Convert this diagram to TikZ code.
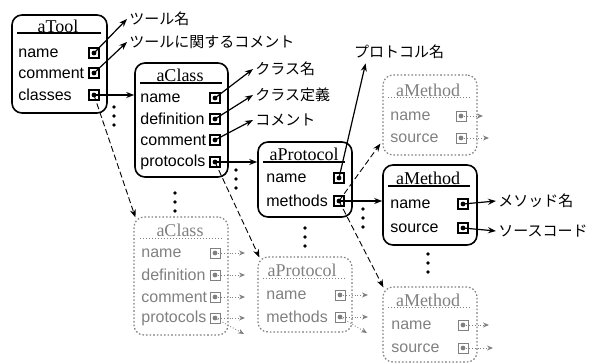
\documentclass[tikz,border=0pt]{standalone}
\usepackage{fontspec}
\setmainfont{Liberation Serif}
\setsansfont{Liberation Sans}
\newfontfamily\jpfont{Noto Sans CJK JP}
\usetikzlibrary{arrows.meta, fit}

\tikzset{
  obj/.style={draw, line width=0.8pt, rounded corners=5pt, inner sep=0pt},
  ghost/.style={obj, densely dotted, line width=0.6pt, gray},
  title/.style={inner sep=0pt, font=\fontsize{9}{10}\selectfont},
  rule/.style={line width=0.6pt},
  grule/.style={densely dotted, line width=0.5pt, gray},
  field/.style={anchor=west, inner sep=0pt, font=\sffamily\fontsize{8}{10}\selectfont},
  slot/.style={draw, line width=0.6pt, minimum size=5pt, inner sep=0pt,
    path picture={\fill (path picture bounding box.center) circle (1.2pt);}},
  gslot/.style={slot, gray, line width=0.4pt},
  jplabel/.style={anchor=west, inner sep=1pt, font=\jpfont\fontsize{7.5}{9}\selectfont},
  ptr/.style={-{Stealth[length=4pt,width=3pt]}, line width=0.6pt},
  ref/.style={-{Stealth[length=4pt,width=3pt]}, dash pattern=on 3pt off 1.5pt, line width=0.45pt},
  gptr/.style={-{Stealth[length=3pt,width=2.5pt]}, densely dotted, line width=0.45pt, gray},
  vdot/.style={fill, circle, inner sep=0pt, minimum size=1.8pt},
}

\begin{document}
\begin{tikzpicture}[x=0.5pt, y=-0.5pt]
  \useasboundingbox (0,0) rectangle (589,364);

  % aTool
  \node[obj, fit={(12,15) (107,113)}] (tool) {};
  \node[title] (tool-title) at (58,26) {aTool};
  \draw[rule] (17,33) -- (101,33);
  \foreach \f/\y in {name/53, comment/73, classes/95} {
    \node[field] (tool-\f-lbl) at (18,\y) {\f};
    \node[slot] (tool-\f) at (94,\y) {};
  }

  % aClass
  \node[obj, fit={(135,63) (228,177)}] (cls) {};
  \node[title] (cls-title) at (180,75) {aClass};
  \draw[rule] (140,83) -- (222,83);
  \foreach \f/\y in {name/98, definition/119, comment/140, protocols/162} {
    \node[field] (cls-\f-lbl) at (140,\y) {\f};
    \node[slot] (cls-\f) at (215,\y) {};
  }

  % aClass (other)
  \node[ghost, fit={(134,217) (228,335)}] (clsg) {};
  \node[title, gray] (clsg-title) at (180,230) {aClass};
  \draw[grule] (140,238) -- (222,238);
  \foreach \f/\y in {name/253, definition/275, comment/297, protocols/318} {
    \node[field, gray] (clsg-\f-lbl) at (141,\y) {\f};
    \node[gslot] (clsg-\f) at (215,\y) {};
  }

  % aProtocol
  \node[obj, fit={(258,142) (352,217)}] (proto) {};
  \node[title] (proto-title) at (304,154) {aProtocol};
  \draw[rule] (263,162) -- (345,162);
  \foreach \f/\y in {name/178, methods/201} {
    \node[field] (proto-\f-lbl) at (266,\y) {\f};
    \node[slot] (proto-\f) at (339,\y) {};
  }

  % aProtocol (other)
  \node[ghost, fit={(258,257) (352,332)}] (protog) {};
  \node[title, gray] (protog-title) at (302,270) {aProtocol};
  \draw[grule] (263,278) -- (345,278);
  \foreach \f/\y in {name/295, methods/317} {
    \node[field, gray] (protog-\f-lbl) at (266,\y) {\f};
    \node[gslot] (protog-\f) at (340,\y) {};
  }

  % aMethod (other, top)
  \node[ghost, fit={(383,75) (477,155)}] (metha) {};
  \node[title, gray] (metha-title) at (428,90) {aMethod};
  \draw[grule] (388,97) -- (470,97);
  \foreach \f/\y in {name/116, source/138} {
    \node[field, gray] (metha-\f-lbl) at (390,\y) {\f};
    \node[gslot] (metha-\f) at (461,\y) {};
  }

  % aMethod
  \node[obj, fit={(383,165) (477,245)}] (meth) {};
  \node[title] (meth-title) at (428,178) {aMethod};
  \draw[rule] (388,186) -- (470,186);
  \foreach \f/\y in {name/204, source/228} {
    \node[field] (meth-\f-lbl) at (390,\y) {\f};
    \node[slot] (meth-\f) at (463,\y) {};
  }

  % aMethod (other, bottom)
  \node[ghost, fit={(383,287) (477,362)}] (methg) {};
  \node[title, gray] (methg-title) at (428,300) {aMethod};
  \draw[grule] (388,307) -- (470,307);
  \foreach \f/\y in {name/325, source/348} {
    \node[field, gray] (methg-\f-lbl) at (391,\y) {\f};
    \node[gslot] (methg-\f) at (463,\y) {};
  }

  % labels
  \node[jplabel] (lbl-toolname) at (127,19) {ツール名};
  \node[jplabel] (lbl-toolcomment) at (127,42) {ツールに関するコメント};
  \node[jplabel] (lbl-clsname) at (253,69) {クラス名};
  \node[jplabel] (lbl-clsdef) at (253,95) {クラス定義};
  \node[jplabel] (lbl-clscomment) at (253,120) {コメント};
  \node[jplabel, anchor=center] (lbl-protoname) at (399,52) {プロトコル名};
  \node[jplabel] (lbl-methname) at (496,201) {メソッド名};
  \node[jplabel] (lbl-methsource) at (496,231) {ソースコード};

  % pointers
  \draw[ptr] (tool-name.center) -- (lbl-toolname.west);
  \draw[ptr] (tool-comment.center) -- (lbl-toolcomment.west);
  \draw[ptr] (tool-classes.center) -- (cls.west |- tool-classes);
  \draw[ptr] (cls-name.center) -- (lbl-clsname.west);
  \draw[ptr] (cls-definition.center) -- (lbl-clsdef.west);
  \draw[ptr] (cls-comment.center) -- (lbl-clscomment.west);
  \draw[ptr] (cls-protocols.center) -- (proto.west |- cls-protocols);
  \draw[ptr] (proto-name.center) -- ([xshift=7pt,yshift=-1pt]lbl-protoname.south west);
  \draw[ptr] (proto-methods.center) -- (meth.west |- proto-methods);
  \draw[ptr] (meth-name.center) -- (lbl-methname.west);
  \draw[ptr] (meth-source.center) -- (lbl-methsource.west);

  % references to other instances
  \draw[ref] (tool-classes.center) -- ([shift={(2,1)}]clsg.north west);
  \draw[ref] (cls-protocols.center) -- ([shift={(2,1)}]protog.north west);
  \draw[ref] (proto-methods.center) -- ([shift={(-2,-12)}]metha.south west);
  \draw[ref] (proto-methods.center) -- ([shift={(1,1)}]methg.north west);

  % pointers of the other instances
  \foreach \f in {name, definition, comment, protocols}
    \draw[gptr] (clsg-\f.center) -- ++(30,0);
  \draw[gptr] (clsg-protocols.center) -- ++(29,16);
  \foreach \f in {name, methods}
    \draw[gptr] (protog-\f.center) -- ++(28,0);
  \draw[gptr] (protog-methods.center) -- ++(27,16);
  \draw[gptr] (metha-name.center) -- ++(22,0);
  \draw[gptr] (metha-source.center) -- ++(28,0);
  \draw[gptr] (methg-name.center) -- ++(26,0);
  \draw[gptr] (methg-source.center) -- ++(30,0);

  % more of the same
  \foreach \x/\y in {114/107, 236/170, 175/193, 363/209, 305/228, 428/254} {
    \node[vdot] at (\x,\y) {};
    \node[vdot] at (\x,\y+9) {};
    \node[vdot] at (\x,\y+18) {};
  }
\end{tikzpicture}
\end{document}
